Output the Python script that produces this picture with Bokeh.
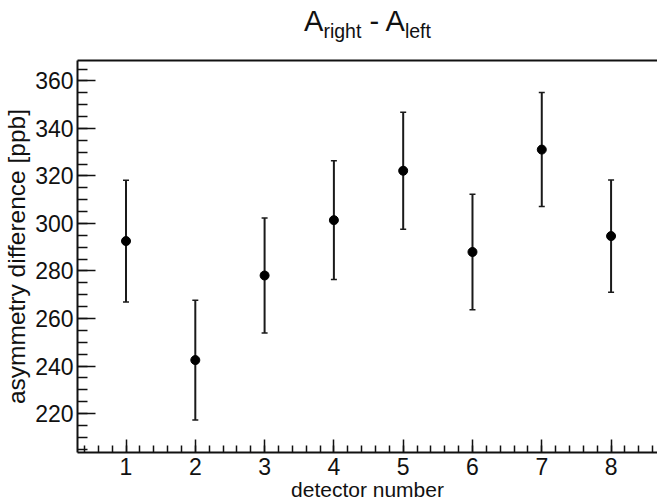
from bokeh.plotting import figure
from bokeh.models import (ColumnDataSource, Whisker, TeeHead, LinearAxis, Div,
                          SingleIntervalTicker, FixedTicker, Range1d)
from bokeh.layouts import column
from bokeh.embed import file_html
from bokeh.resources import INLINE

# ---- data ----
detectors = [1, 2, 3, 4, 5, 6, 7, 8]
asym_diff = [292.6, 242.5, 278.1, 301.4, 322.2, 288.0, 331.1, 294.7]
asym_err = [25.6, 25.2, 24.2, 25.0, 24.6, 24.3, 24.0, 23.6]
title_main = "A"
title_sub_1 = "right"
title_sub_2 = "left"
x_title = "detector number"
y_title = "asymmetry difference [ppb]"

lower = [v - e for v, e in zip(asym_diff, asym_err)]
upper = [v + e for v, e in zip(asym_diff, asym_err)]
src = ColumnDataSource(dict(x=detectors, y=asym_diff, lo=lower, hi=upper))

FONT = "Liberation Sans"
INK = "#111111"

p = figure(width=657, height=453, output_backend="svg", toolbar_location=None,
           x_range=Range1d(0.3, 8.67), y_range=Range1d(203.6, 368.6),
           min_border_left=77, min_border_top=10, min_border_bottom=50,
           min_border_right=0, margin=0)
p.outline_line_color = None
p.grid.visible = False
p.background_fill_color = "white"
p.border_fill_color = "white"

# axes
p.xaxis.ticker = SingleIntervalTicker(interval=1, num_minor_ticks=5)
p.yaxis.ticker = SingleIntervalTicker(interval=20, num_minor_ticks=4)
for ax in (p.xaxis[0], p.yaxis[0]):
    ax.axis_line_width = 2
    ax.axis_line_color = INK
    ax.major_tick_out = 0
    ax.minor_tick_out = 0
    ax.major_tick_line_color = INK
    ax.minor_tick_line_color = INK
    ax.major_tick_line_width = 1.5
    ax.minor_tick_line_width = 1.5
    ax.major_label_text_font = FONT
    ax.major_label_text_font_size = "23px"
    ax.major_label_text_color = INK
    ax.axis_label_text_font = FONT
    ax.axis_label_text_font_style = "normal"
    ax.axis_label_text_color = INK

p.xaxis.major_tick_in = 13
p.xaxis.minor_tick_in = 7
p.yaxis.major_tick_in = 18
p.yaxis.minor_tick_in = 10
p.xaxis.major_label_standoff = 5
p.yaxis.major_label_standoff = 4
p.xaxis.axis_label = x_title
p.yaxis.axis_label = y_title
p.xaxis.axis_label_text_font_size = "21px"
p.yaxis.axis_label_text_font_size = "24.5px"
p.xaxis.axis_label_standoff = 0
p.yaxis.axis_label_standoff = 2

top = LinearAxis(ticker=FixedTicker(ticks=[]), major_tick_in=0, major_tick_out=0,
                 minor_tick_in=0, minor_tick_out=0,
                 axis_line_width=2, axis_line_color=INK)
p.add_layout(top, "above")

# error bars and points
p.add_layout(Whisker(source=src, base="x", lower="lo", upper="hi", dimension="height",
                     line_color="#1a1a1a", line_width=2,
                     upper_head=TeeHead(size=6, line_width=1.5, line_color="#1a1a1a"),
                     lower_head=TeeHead(size=6, line_width=1.5, line_color="#1a1a1a")))
p.scatter("x", "y", source=src, size=9, color="black")

# title A_right - A_left
sub = '<span style="font-size:19.5px; position:relative; top:6.5px;">{}</span>'
title_html = (
    '<div style="position:absolute; left:78px; top:7px; width:579px; '
    'text-align:center; white-space:nowrap; font-family:&quot;Liberation Sans&quot;, sans-serif; '
    'font-size:29px; line-height:29px; color:#111111;">'
    + title_main + sub.format(title_sub_1) + ' - ' + title_main + sub.format(title_sub_2)
    + '</div>'
)
title = Div(text=title_html, width=657, height=50, margin=0,
            styles={"position": "relative"})

layout = column(title, p, spacing=0)
open("out.html", "w").write(file_html(layout, INLINE))
